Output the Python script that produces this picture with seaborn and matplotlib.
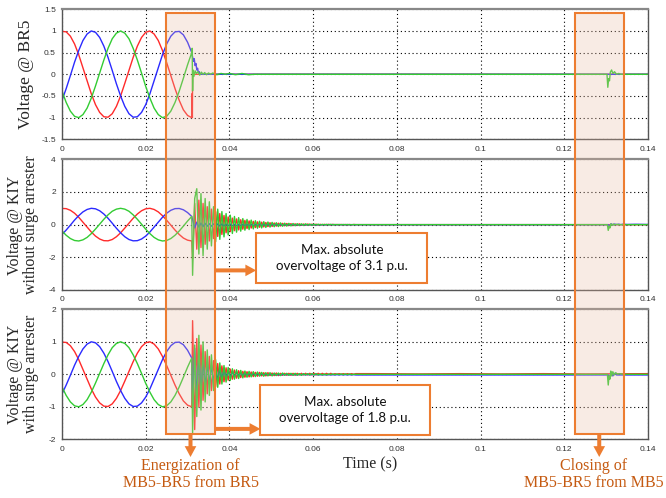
import numpy as np
import pandas as pd
import seaborn as sns
import matplotlib.pyplot as plt
from matplotlib.patches import Rectangle, FancyArrowPatch
from matplotlib.ticker import MultipleLocator, FuncFormatter

# phase voltages (p.u.) before the switching, read every 1 ms
t_pre = np.arange(32) * 0.001
red_pre = [0.99, 0.98, 0.88, 0.70, 0.45, 0.15, -0.15, -0.45, -0.70, -0.88,
           -0.98, -0.99, -0.91, -0.74, -0.50, -0.21, 0.09, 0.39, 0.65, 0.85,
           0.97, 1.00, 0.93, 0.78, 0.55, 0.27, -0.03, -0.33, -0.60, -0.82,
           -0.95, -1.00]
blue_pre = [-0.60, -0.33, -0.03, 0.28, 0.55, 0.78, 0.93, 1.00, 0.97, 0.85,
            0.65, 0.39, 0.09, -0.22, -0.50, -0.74, -0.91, -0.99, -0.98, -0.88,
            -0.70, -0.45, -0.15, 0.15, 0.45, 0.70, 0.88, 0.98, 0.99, 0.91,
            0.74, 0.50]
green_pre = [-0.39, -0.65, -0.85, -0.97, -1.00, -0.93, -0.78, -0.55, -0.27, 0.03,
             0.33, 0.60, 0.82, 0.95, 1.00, 0.95, 0.82, 0.60, 0.33, 0.03,
             -0.28, -0.55, -0.78, -0.93, -1.00, -0.97, -0.85, -0.65, -0.39, -0.09,
             0.22, 0.50]

# ---- BR5 (top) after switching
br5_red_t = [0.03105, 0.0311, 0.03115, 0.0312, 0.14]
br5_red_v = [-0.45, -0.8, -1.0, 0.0, 0.0]
br5_blue_t = [0.0312, 0.0314, 0.0316, 0.0318, 0.032, 0.0322, 0.0324, 0.0326, 0.0328, 0.033, 0.14]
br5_blue_v = [0.4, 0.3, 0.36, 0.2, 0.25, 0.1, 0.14, 0.03, 0.06, 0.0, 0.0]
br5_green_t = [0.0311, 0.0312, 0.0313, 0.0315, 0.0318, 0.0321, 0.0325, 0.0329, 0.0333,
               0.0337, 0.0341, 0.0345, 0.035, 0.0355, 0.036, 0.037, 0.038, 0.039, 0.04,
               0.0415, 0.043, 0.0445, 0.046, 0.1302, 0.1304, 0.1306, 0.1308, 0.131,
               0.1313, 0.1316, 0.132, 0.1325, 0.133, 0.1335, 0.134, 0.14]
br5_green_v = [0.6, -0.38, 0.1, -0.05, 0.08, 0.02, 0.06, -0.02, 0.05,
               0.0, 0.04, -0.01, 0.03, 0.0, 0.03, -0.01, 0.02, 0.0, 0.02,
               -0.01, 0.02, -0.01, 0.0, 0.0, -0.3, -0.1, -0.15, 0.05,
               0.1, 0.02, 0.06, 0.0, 0.02, 0.0, 0.0, 0.0]

# ---- transient samples, every 0.5 ms from 31.2 ms
t_post = 0.0312 + np.arange(80) * 0.0005

kiy_red = [-2.1, 1.3, -1.5, 1.5, -1.4, 1.3, -1.2, 1.1, -1.0, 0.95,
           -0.85, 0.8, -0.72, 0.68, -0.6, 0.56, -0.5, 0.47, -0.43, 0.4,
           -0.37, 0.35, -0.32, 0.3, -0.28, 0.26, -0.24, 0.23, -0.21, 0.2,
           -0.18, 0.17, -0.16, 0.15, -0.14, 0.13, -0.12, 0.12, -0.11, 0.1,
           -0.09, 0.09, -0.08, 0.08, -0.07, 0.07, -0.06, 0.06, -0.06, 0.05,
           -0.05, 0.05, -0.04, 0.04, -0.04, 0.04, -0.03, 0.03, -0.03, 0.03,
           -0.03, 0.02, -0.02, 0.02, -0.02, 0.02, -0.02, 0.02, -0.01, 0.01,
           -0.01, 0.01, -0.01, 0.01, -0.01, 0.01, -0.01, 0.01, 0.0, 0.0]
kiy_blue = [0.3, -0.2, 0.15, -0.15, 0.1, -0.12, 0.08, -0.1, 0.06, -0.1,
            0.05, -0.09, 0.04, -0.08, 0.04, -0.08, 0.03, -0.07, 0.03, -0.07,
            0.02, -0.06, 0.02, -0.06, 0.02, -0.05, 0.01, -0.05, 0.01, -0.05,
            0.01, -0.04, 0.01, -0.04, 0.0, -0.04, 0.0, -0.03, 0.0, -0.03,
            0.0, -0.03, 0.0, -0.03, 0.0, -0.02, 0.0, -0.02, 0.0, -0.02,
            0.0, -0.02, 0.0, -0.02, 0.0, -0.01, 0.0, -0.01, 0.0, -0.01,
            0.0, -0.01, 0.0, -0.01, 0.0, 0.0, 0.0, 0.0, 0.0, 0.0,
            0.0, 0.0, 0.0, 0.0, 0.0, 0.0, 0.0, 0.0, 0.0, 0.0]
kiy_green = [-3.1, 1.6, 2.2, -1.8, 1.9, -1.9, 1.6, -1.5, 1.4, -1.3,
             1.1, -1.05, 0.95, -0.9, 0.8, -0.75, 0.68, -0.63, 0.58, -0.54,
             0.5, -0.46, 0.43, -0.4, 0.37, -0.34, 0.32, -0.3, 0.28, -0.26,
             0.24, -0.22, 0.21, -0.2, 0.18, -0.17, 0.16, -0.15, 0.14, -0.13,
             0.12, -0.12, 0.11, -0.1, 0.09, -0.09, 0.08, -0.08, 0.07, -0.07,
             0.06, -0.06, 0.05, -0.05, 0.05, -0.04, 0.04, -0.04, 0.03, -0.03,
             0.03, -0.03, 0.02, -0.02, 0.02, -0.02, 0.02, -0.02, 0.01, -0.01,
             0.01, -0.01, 0.01, -0.01, 0.01, -0.01, 0.0, 0.0, 0.0, 0.0]
kiy_red_tail_t = [0.075, 0.14]
kiy_red_tail_v = [0.0, 0.0]
kiy_blue_tail_t = [0.075, 0.1305, 0.1308, 0.1312, 0.1316, 0.132, 0.1325, 0.133, 0.1335, 0.134, 0.135, 0.137, 0.14]
kiy_blue_tail_v = [0.0, 0.0, -0.08, 0.05, -0.02, 0.04, 0.0, 0.03, 0.0, 0.03, 0.01, 0.02, 0.01]
kiy_green_tail_t = [0.075, 0.1303, 0.1305, 0.1307, 0.1309, 0.1311, 0.1314, 0.1317, 0.132, 0.1325, 0.133, 0.134, 0.14]
kiy_green_tail_v = [0.0, 0.0, -0.35, -0.1, -0.2, 0.05, -0.05, 0.04, -0.02, 0.02, 0.0, 0.0, 0.0]

kiysa_red = [1.65, -1.7, 1.1, -1.0, 0.9, -0.8, 0.7, -0.6, 0.55, -0.5,
             0.42, -0.38, 0.33, -0.3, 0.26, -0.23, 0.2, -0.18, 0.16, -0.15,
             0.13, -0.12, 0.11, -0.1, 0.09, -0.09, 0.08, -0.08, 0.07, -0.07,
             0.06, -0.06, 0.06, -0.05, 0.05, -0.05, 0.05, -0.04, 0.04, -0.04,
             0.04, -0.04, 0.03, -0.03, 0.03, -0.03, 0.03, -0.03, 0.03, -0.03,
             0.03, -0.02, 0.03, -0.02, 0.03, -0.02, 0.03, -0.02, 0.03, -0.02,
             0.03, -0.01, 0.03, -0.01, 0.03, -0.01, 0.03, -0.01, 0.02, 0.0,
             0.02, 0.0, 0.02, 0.0, 0.02, 0.0, 0.02, 0.0, 0.02, 0.02]
kiysa_blue = [-0.9, 0.8, -0.7, 0.6, -0.5, 0.45, -0.4, 0.35, -0.3, 0.27,
              -0.24, 0.21, -0.19, 0.17, -0.15, 0.13, -0.12, 0.11, -0.1, 0.09,
              -0.08, 0.07, -0.07, 0.06, -0.06, 0.05, -0.05, 0.04, -0.04, 0.03,
              -0.04, 0.02, -0.03, 0.02, -0.03, 0.01, -0.03, 0.01, -0.03, 0.01,
              -0.03, 0.0, -0.03, 0.0, -0.02, 0.0, -0.02, 0.0, -0.02, 0.0,
              -0.02, 0.0, -0.02, 0.0, -0.02, 0.0, -0.02, 0.0, -0.02, 0.0,
              -0.02, -0.01, -0.02, -0.01, -0.02, -0.01, -0.02, -0.01, -0.02, -0.01,
              -0.02, -0.01, -0.02, -0.01, -0.02, -0.01, -0.02, -0.01, -0.02, -0.02]
kiysa_green = [-1.8, 0.9, -1.3, 1.2, -1.1, 1.0, -0.85, 0.75, -0.65, 0.6,
               -0.5, 0.45, -0.4, 0.35, -0.3, 0.27, -0.24, 0.21, -0.19, 0.17,
               -0.15, 0.14, -0.13, 0.12, -0.11, 0.1, -0.09, 0.09, -0.08, 0.08,
               -0.07, 0.07, -0.06, 0.06, -0.06, 0.05, -0.05, 0.05, -0.05, 0.04,
               -0.04, 0.04, -0.04, 0.04, -0.03, 0.03, -0.03, 0.03, -0.03, 0.03,
               -0.03, 0.02, -0.03, 0.02, -0.02, 0.02, -0.02, 0.02, -0.02, 0.02,
               -0.02, 0.01, -0.02, 0.01, -0.02, 0.01, -0.01, 0.01, -0.01, 0.01,
               -0.01, 0.01, -0.01, 0.01, -0.01, 0.01, -0.01, 0.0, 0.0, 0.0]
kiysa_red_tail_t = [0.075, 0.085, 0.095, 0.105, 0.115, 0.125, 0.14]
kiysa_red_tail_v = [0.02, 0.01, 0.02, 0.01, 0.02, 0.01, 0.02]
kiysa_blue_tail_t = [0.075, 0.1305, 0.1308, 0.1312, 0.1316, 0.132, 0.1325, 0.133, 0.14]
kiysa_blue_tail_v = [-0.02, -0.02, -0.1, 0.04, -0.05, 0.03, -0.02, -0.02, -0.02]
kiysa_green_tail_t = [0.075, 0.1303, 0.1305, 0.1307, 0.1309, 0.1311, 0.1313, 0.1316, 0.1319,
                      0.1323, 0.1327, 0.1332, 0.134, 0.14]
kiysa_green_tail_v = [0.0, 0.0, -0.33, -0.05, -0.15, 0.1, -0.05, 0.08, -0.02,
                      0.05, 0.0, 0.02, 0.0, 0.0]

phases = ['a', 'b', 'c']
colors = ['#ff2a2a', '#2a2aff', '#33cc33']
energ_window = (0.0248, 0.0366)
closing_window = (0.1225, 0.1342)

ylabels = ['Voltage @ BR5', 'Voltage @ KIY\nwithout surge arrester', 'Voltage @ KIY\nwith surge arrester']
ylims = [(-1.5, 1.5), (-4, 4), (-2, 2)]
ysteps = [0.5, 2, 1]
orange = '#ed7d31'
orange_txt = '#c55a11'


def frame(posts):
    parts = []
    for ph, pre, (pt, pv) in zip(phases, [red_pre, blue_pre, green_pre], posts):
        t = np.concatenate([t_pre, pt])
        v = np.concatenate([pre, pv])
        parts.append(pd.DataFrame({'t': t, 'v': v, 'phase': ph}))
    return pd.concat(parts, ignore_index=True)


frames = [
    frame([(br5_red_t, br5_red_v), (br5_blue_t, br5_blue_v), (br5_green_t, br5_green_v)]),
    frame([(np.concatenate([t_post, kiy_red_tail_t]), kiy_red + kiy_red_tail_v),
           (np.concatenate([t_post, kiy_blue_tail_t]), kiy_blue + kiy_blue_tail_v),
           (np.concatenate([t_post, kiy_green_tail_t]), kiy_green + kiy_green_tail_v)]),
    frame([(np.concatenate([t_post, kiysa_red_tail_t]), kiysa_red + kiysa_red_tail_v),
           (np.concatenate([t_post, kiysa_blue_tail_t]), kiysa_blue + kiysa_blue_tail_v),
           (np.concatenate([t_post, kiysa_green_tail_t]), kiysa_green + kiysa_green_tail_v)]),
]

sns.set_style('white')
plt.rcParams['font.family'] = ['Liberation Sans', 'DejaVu Sans']

fig = plt.figure(figsize=(6.66, 4.98), dpi=100)
W, H = 666, 498


def px(x, y):
    return (x / W, 1 - y / H)


axes_px = [(62, 9.3, 648, 139.3), (62, 159.3, 648, 290), (62, 309.3, 648, 439.3)]
axes = []
for (x0, y0, x1, y1), df, lim, step, lab in zip(axes_px, frames, ylims, ysteps, ylabels):
    ax = fig.add_axes([x0 / W, 1 - y1 / H, (x1 - x0) / W, (y1 - y0) / H])
    sns.lineplot(data=df, x='t', y='v', hue='phase', hue_order=phases, palette=colors,
                 estimator=None, sort=False, legend=False, lw=1.0, ax=ax)
    ax.set_xlim(0, 0.14)
    ax.set_ylim(*lim)
    ax.xaxis.set_major_locator(MultipleLocator(0.02))
    ax.yaxis.set_major_locator(MultipleLocator(step))
    fmt = FuncFormatter(lambda v, p: '%g' % round(v, 4))
    ax.xaxis.set_major_formatter(fmt)
    ax.yaxis.set_major_formatter(fmt)
    ax.set_xlabel('')
    ax.set_ylabel('')
    ax.tick_params(labelsize=6, colors='#333333', length=2, width=0.6, pad=2.5)
    ax.grid(True, color='black', lw=0.8, ls=(0, (1, 2.5)))
    for s in ax.spines.values():
        s.set_color('#555555')
        s.set_linewidth(1.0)
    ax.spines['top'].set_linewidth(1.6)
    ax.spines['top'].set_color('#888888')
    axes.append(ax)

# y labels
fig.text(*px(26, 74), ylabels[0], rotation=90, ha='center', va='center',
         family='Liberation Serif', fontsize=12.5)
fig.text(*px(23, 225), ylabels[1], rotation=90, ha='center', va='center',
         family='Liberation Serif', fontsize=11.5, linespacing=1.05, multialignment='center')
fig.text(*px(23, 374), ylabels[2], rotation=90, ha='center', va='center',
         family='Liberation Serif', fontsize=11.5, linespacing=1.05, multialignment='center')
fig.text(*px(370, 464), 'Time (s)', ha='center', va='center',
         family='Liberation Serif', fontsize=11.5)

inv = fig.transFigure.inverted()


def fpt(ax, x, y):
    return inv.transform(ax.transData.transform((x, y)))


# highlighted windows
rect_mid = []
for x0, x1 in [energ_window, closing_window]:
    lo = fpt(axes[2], x0, -1.84)
    hi = fpt(axes[0], x1, 1.41)
    fig.add_artist(Rectangle(lo, hi[0] - lo[0], hi[1] - lo[1], transform=fig.transFigure,
                             facecolor=(0.91, 0.72, 0.62, 0.28), edgecolor=orange, lw=1.5, zorder=5))
    rect_mid.append(((lo[0] + hi[0]) / 2, lo[1], hi[0]))

astyle = 'simple,tail_width=0.24,head_width=0.7,head_length=0.65'
captions = ['Energization of\nMB5-BR5 from BR5', 'Closing of\nMB5-BR5 from MB5']
for (xm, yb, xr), txt in zip(rect_mid, captions):
    fig.add_artist(FancyArrowPatch((xm, yb), (xm, 1 - 457 / H), transform=fig.transFigure,
                                   arrowstyle=astyle, mutation_scale=12, color=orange, lw=0,
                                   shrinkA=0, shrinkB=0, zorder=6))
    fig.text(min(xm, 594 / W), 1 - 458 / H, txt, ha='center', va='top', color=orange_txt,
             family='Liberation Serif', fontsize=11.5, linespacing=1.05, multialignment='center')

# overvoltage boxes
boxes = [(axes[1], (0.0464, -3.57, 0.0873, -0.5), -2.8, 'Max. absolute\novervoltage of 3.1 p.u.'),
         (axes[2], (0.0474, -1.86, 0.0880, -0.33), -1.68, 'Max. absolute\novervoltage of 1.8 p.u.')]
xr = rect_mid[0][2]
for ax, (bx0, by0, bx1, by1), ay, txt in boxes:
    lo = fpt(ax, bx0, by0)
    hi = fpt(ax, bx1, by1)
    fig.add_artist(Rectangle(lo, hi[0] - lo[0], hi[1] - lo[1], transform=fig.transFigure,
                             facecolor='white', edgecolor=orange, lw=1.5, zorder=7))
    fig.text((lo[0] + hi[0]) / 2, (lo[1] + hi[1]) / 2, txt, ha='center', va='center',
             family='Lato', fontsize=9.6, linespacing=1.4, color='#111111', zorder=8)
    a = fpt(ax, bx0, ay)
    fig.add_artist(FancyArrowPatch((xr, a[1]), (a[0], a[1]), transform=fig.transFigure,
                                   arrowstyle=astyle, mutation_scale=12, color=orange, lw=0,
                                   shrinkA=0, shrinkB=0, zorder=6))

fig.savefig('out.png', dpi=100)
